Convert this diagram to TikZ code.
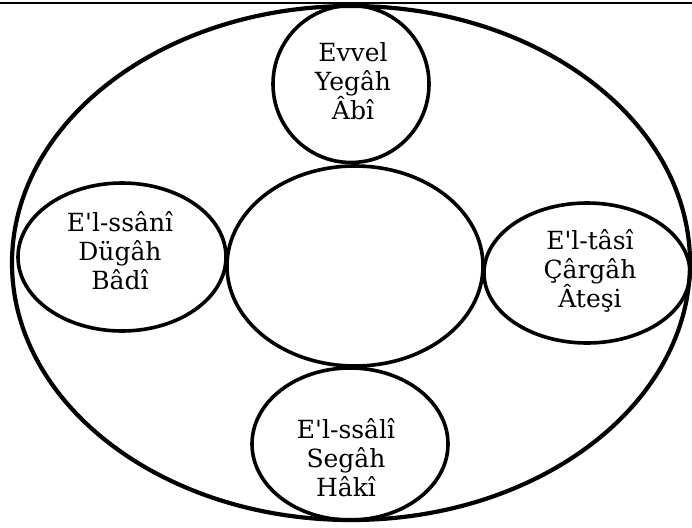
\documentclass[tikz,border=0pt]{standalone}
\usepackage{fontspec}
\setmainfont{DejaVu Serif}
\usetikzlibrary{shapes.geometric}
\begin{document}
\begin{tikzpicture}[x=1pt,y=-1pt,
  ring/.style={draw, ellipse, line width=3.6pt, inner sep=0pt, outer sep=0pt},
  lbl/.style={align=center, font=\fontsize{25}{29}\selectfont}]
\useasboundingbox (0,0) rectangle (692,527);
\fill[white] (0,0) rectangle (692,527);
\coordinate (tl) at (0,3);
\coordinate (tr) at (692,3);
\draw[line width=2.2pt] (tl) -- (tr);
\node[ring, line width=4.2pt, minimum width=678pt, minimum height=514pt] (outer) at (351,263) {};
\node[ring, minimum width=256pt, minimum height=200pt] (center) at (355,266) {};
\node[ring, minimum width=156pt, minimum height=157pt] (top) at (351,84) {};
\node[ring, minimum width=208pt, minimum height=148pt] (left) at (122,257) {};
\node[ring, minimum width=206pt, minimum height=140pt] (right) at (587,273) {};
\node[ring, minimum width=196pt, minimum height=152pt] (bottom) at (350,444) {};
\node[lbl] (ttop) at (353,81) {Evvel\\Yegâh\\Âbî};
\node[lbl] (tleft) at (120,251) {E\textquotesingle l-ssânî\\Dügâh\\Bâdî};
\node[lbl] (tright) at (590,271) {E\textquotesingle l-tâsî\\Çârgâh\\Âteşi};
\node[lbl] (tbottom) at (346,458) {E\textquotesingle l-ssâlî\\Segâh\\Hâkî};
\end{tikzpicture}
\end{document}
